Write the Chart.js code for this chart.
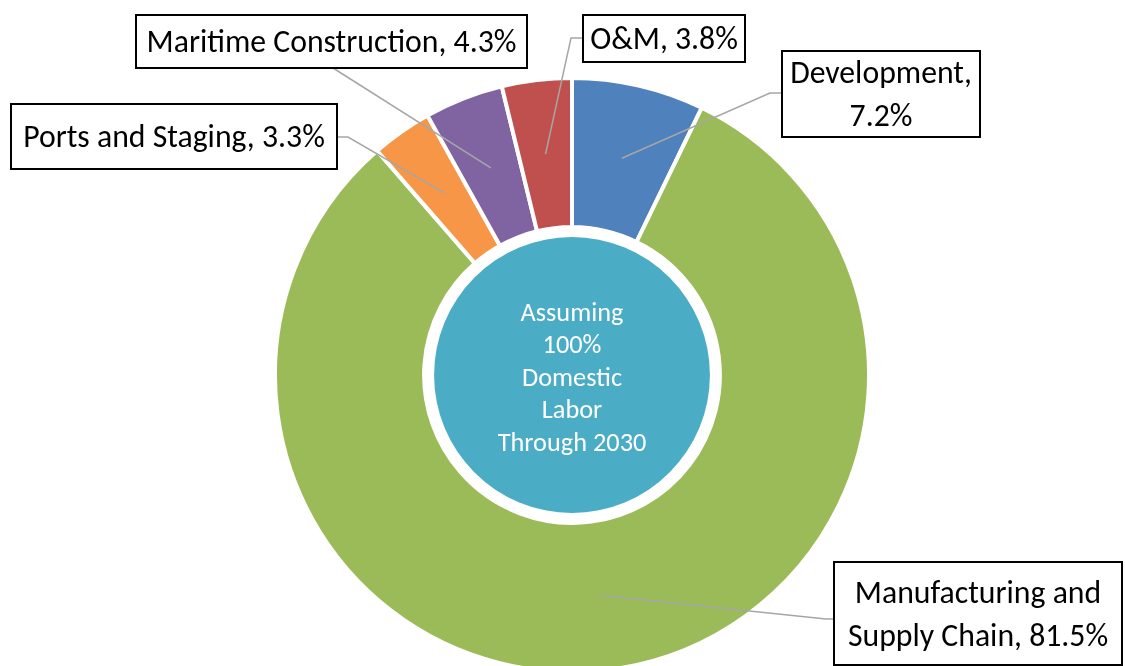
<!DOCTYPE html>
<html>
<head>
<meta charset="utf-8">
<script src="https://cdn.jsdelivr.net/npm/chart.js@4/dist/chart.umd.min.js"></script>
<style>
  html, body { margin: 0; padding: 0; background: #fff; }
  #wrap { width: 1125px; height: 666px; }
</style>
</head>
<body>
<div id="wrap"><canvas id="laborChart" width="1125" height="666"></canvas></div>
<script>
// chart data
const categories = ['Development', 'Manufacturing and Supply Chain', 'Ports and Staging', 'Maritime Construction', 'O&M'];
const shares = [7.2, 81.5, 3.3, 4.3, 3.8];
const sliceColors = ['#4F81BD', '#9BBB59', '#F79646', '#8064A2', '#C0504D'];
const centerLines = ['Assuming', '100%', 'Domestic', 'Labor', 'Through 2030'];

// callout layout: box corners, where the leader leaves the box and its bend point
const callouts = [
  { box: [782, 51, 980, 137], from: [782, 93], elbow: [770, 93] },
  { box: [834, 562, 1122, 665], from: [834, 619], elbow: [826, 619] },
  { box: [11, 104, 337, 169], from: [337, 137], elbow: [348, 137] },
  { box: [136, 15, 527, 68], from: [333, 68], elbow: null },
  { box: [583, 15, 745, 62], from: [583, 38], elbow: [571, 38] }
];

const FONT = 'Carlito, Lato, sans-serif';

// pick a font size that gives roughly the same text width as the original
function labelFontSize(ctx) {
  ctx.font = '32px ' + FONT;
  const w = ctx.measureText('Maritime Construction, 4.3%').width;
  return 32 * 370 / w;
}

function wrapText(ctx, text, maxWidth) {
  const words = text.split(' ');
  const lines = [];
  let line = '';
  words.forEach(function (word) {
    const test = line ? line + ' ' + word : word;
    if (line && ctx.measureText(test).width > maxWidth) {
      lines.push(line);
      line = word;
    } else {
      line = test;
    }
  });
  if (line) lines.push(line);
  return lines;
}

const calloutPlugin = {
  id: 'callouts',
  afterDatasetsDraw(chart) {
    const ctx = chart.ctx;
    const arcs = chart.getDatasetMeta(0).data;
    const size = labelFontSize(ctx);

    ctx.save();

    // center disc with its caption
    const cx = arcs[0].x;
    const cy = arcs[0].y;
    const discR = arcs[0].innerRadius - 10;
    ctx.beginPath();
    ctx.arc(cx, cy, discR, 0, Math.PI * 2);
    ctx.fillStyle = '#4BACC6';
    ctx.fill();

    const centerSize = size * 0.83;
    ctx.font = centerSize + 'px ' + FONT;
    ctx.fillStyle = '#ffffff';
    ctx.textAlign = 'center';
    ctx.textBaseline = 'alphabetic';
    const capC = ctx.measureText('H').actualBoundingBoxAscent;
    const step = 32.5;
    centerLines.forEach(function (txt, i) {
      const y = cy + (i - (centerLines.length - 1) / 2) * step + capC / 2 + 2;
      ctx.fillText(txt, cx, y);
    });

    // leader lines
    ctx.strokeStyle = '#A6A6A6';
    ctx.lineWidth = 1.5;
    arcs.forEach(function (arc, i) {
      const c = callouts[i];
      const p = arc.getCenterPoint();
      ctx.beginPath();
      ctx.moveTo(c.from[0], c.from[1]);
      if (c.elbow) ctx.lineTo(c.elbow[0], c.elbow[1]);
      ctx.lineTo(p.x, p.y);
      ctx.stroke();
    });

    // boxes and label text
    ctx.font = size + 'px ' + FONT;
    const cap = ctx.measureText('H').actualBoundingBoxAscent;
    const lineGap = 43;
    categories.forEach(function (cat, i) {
      const b = callouts[i].box;
      const w = b[2] - b[0];
      const h = b[3] - b[1];
      ctx.fillStyle = '#ffffff';
      ctx.fillRect(b[0], b[1], w, h);
      ctx.strokeStyle = '#000000';
      ctx.lineWidth = 2;
      ctx.strokeRect(b[0], b[1], w, h);

      const lines = wrapText(ctx, cat + ', ' + shares[i] + '%', w - 4);
      const midX = b[0] + w / 2;
      const midY = b[1] + h / 2;
      ctx.fillStyle = '#000000';
      lines.forEach(function (txt, j) {
        const y = midY + (j - (lines.length - 1) / 2) * lineGap + cap / 2;
        ctx.fillText(txt, midX, y);
      });
    });

    ctx.restore();
  }
};

new Chart(document.getElementById('laborChart'), {
  type: 'doughnut',
  data: {
    labels: categories,
    datasets: [{
      data: shares,
      backgroundColor: sliceColors,
      borderColor: '#ffffff',
      borderWidth: 4,
      clip: false
    }]
  },
  options: {
    responsive: false,
    animation: false,
    radius: 297,
    cutout: '49.8%',
    layout: { padding: { left: 19, top: 84, right: 0, bottom: 0 } },
    plugins: {
      legend: { display: false },
      tooltip: { enabled: false }
    }
  },
  plugins: [calloutPlugin]
});
</script>
</body>
</html>
